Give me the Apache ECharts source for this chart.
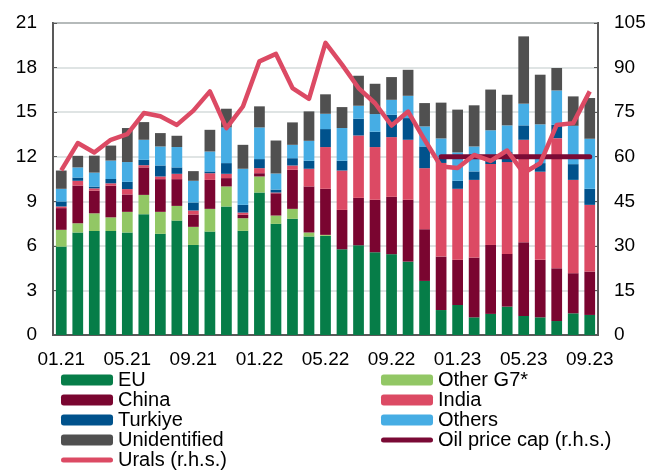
<!DOCTYPE html>
<html>
<head>
<meta charset="utf-8">
<script src="https://cdn.jsdelivr.net/npm/echarts@6/dist/echarts.min.js"></script>
<style>
  html, body { margin: 0; padding: 0; background: #fff; }
  #chart { width: 651px; height: 470px; }
</style>
</head>
<body>
<div id="chart"></div>
<script>
const months = ['01.21','02.21','03.21','04.21','05.21','06.21','07.21','08.21','09.21','10.21','11.21','12.21',
  '01.22','02.22','03.22','04.22','05.22','06.22','07.22','08.22','09.22','10.22','11.22','12.22',
  '01.23','02.23','03.23','04.23','05.23','06.23','07.23','08.23','09.23'];

// stacked volumes (l.h.s.)
const eu = [5.95,6.9,7.0,7.0,6.9,8.13,6.81,7.7,6.06,6.96,8.65,7.01,9.59,7.48,7.82,6.63,6.67,5.77,6.04,5.57,5.44,4.94,3.64,1.68,2.02,1.19,1.42,1.91,1.28,1.19,0.94,1.46,1.35];
const otherG7 = [1.13,0.62,1.19,0.92,1.39,1.3,1.48,0.99,1.22,1.53,1.35,0.85,1.08,0.56,0.67,0.27,0.07,0,0,0,0,0,0,0,0,0,0,0,0,0,0,0,0];
const china = [1.46,2.54,1.53,2.13,1.17,1.85,2.2,1.8,0.83,1.95,0.56,0.23,0.22,1.5,2.63,3.1,3.1,2.65,3.19,3.53,3.86,4.16,3.48,3.6,3.04,4.02,4.64,3.55,4.96,3.87,3.55,2.7,2.92];
const india = [0.11,0.32,0.15,0.16,0.36,0.15,0.18,0.36,0.27,0.45,0.29,0.15,0.34,0.05,0.29,1.19,2.81,2.65,4.2,3.55,4.02,4.04,4.11,6.3,4.78,5.23,5.45,6.18,6.9,5.93,8.76,6.28,4.49];
const turkiye = [0.34,0.22,0.12,0.29,0.49,0.36,0.74,0.43,0.54,0.12,0.72,0.52,0.61,0.2,0.49,0.54,1.21,0.66,1.13,1.03,1.5,1.46,1.46,0.35,0.54,0.57,0.35,0.67,0.97,0.58,0.9,1.06,1.08];
const others = [0.85,0.68,0.94,1.24,1.33,1.35,1.28,1.37,1.46,1.34,2.4,2.43,2.13,1.08,0.9,1.34,1.03,2.2,0.87,1.19,1.01,1.5,1.35,1.3,1.91,1.68,1.92,1.8,1.46,2.61,2.31,2.58,3.37];
const unidentified = [1.23,0.78,1.14,1.01,2.29,1.19,0.9,0.76,0.65,1.46,1.26,1.61,1.42,2.22,1.51,1.98,1.31,1.41,2.02,2.04,1.53,1.75,1.57,2.41,2.88,2.77,2.74,2.06,4.53,3.34,1.51,1.98,2.74];

// prices (r.h.s.)
const urals = [55.4,64.6,61.4,65.7,67.6,74.7,73.6,70.7,75.5,82.0,69.6,76.9,92.1,94.6,83.1,79.5,98.3,91.0,83.1,78.0,70.5,75.2,65.7,56.7,56.2,60.6,58.6,62.1,54.5,57.8,70.7,71.3,82.0];
const priceCap = [null,null,null,null,null,null,null,null,null,null,null,null,null,null,null,null,null,null,null,null,null,null,null,60,60,60,60,60,60,60,60,60,60];

const leftTicks = [0, 21, 3];
const rightTicks = [0, 105, 15];

const font = 'Liberation Sans, Arial, sans-serif';
const axisGrey = '#595959';
// rounded thick line used as legend icon for the r.h.s. lines
const lineIcon = 'path://M2.5,0 L49.5,0 A2.5,2.5 0 0 1 49.5,5 L2.5,5 A2.5,2.5 0 0 1 2.5,0 Z';

function bar(name, data, color) {
  return {
    name: name, type: 'bar', stack: 'vol', data: data,
    barWidth: '65%', itemStyle: { color: color }
  };
}

function legendBox(left, items) {
  return {
    left: left, top: 370, orient: 'vertical', padding: 0,
    itemWidth: 52, itemHeight: 11, itemGap: 0,
    textStyle: { fontSize: 20, color: '#000', lineHeight: 20, fontFamily: font },
    data: items
  };
}

let chart = echarts.init(document.getElementById('chart'));
chart.setOption({
  animation: false,
  textStyle: { fontFamily: font },
  grid: {
    left: 53, right: 53, top: 23, bottom: 135,
    show: true, borderColor: axisGrey, borderWidth: 2
  },
  legend: [
    legendBox(61, ['EU', 'China', 'Turkiye', 'Unidentified', { name: 'Urals (r.h.s.)', icon: lineIcon }]),
    legendBox(381, ['Other G7*', 'India', 'Others', { name: 'Oil price cap (r.h.s.)', icon: lineIcon }])
  ],
  xAxis: {
    type: 'category', data: months,
    axisLine: { lineStyle: { color: axisGrey, width: 2 } },
    axisTick: { inside: true, length: 4, interval: 3, lineStyle: { color: axisGrey, width: 2 } },
    axisLabel: { interval: 3, margin: 15, fontSize: 19, color: '#000' }
  },
  yAxis: [
    {
      type: 'value', min: leftTicks[0], max: leftTicks[1], interval: leftTicks[2],
      axisLine: { show: true, lineStyle: { color: axisGrey, width: 2 } },
      axisTick: { show: true, inside: true, length: 4, lineStyle: { color: axisGrey } },
      axisLabel: { margin: 16, fontSize: 19, color: '#000' },
      splitLine: { lineStyle: { color: '#d5dbdb', width: 1.5 } }
    },
    {
      type: 'value', min: rightTicks[0], max: rightTicks[1], interval: rightTicks[2],
      axisLine: { show: true, lineStyle: { color: axisGrey, width: 2 } },
      axisTick: { show: true, inside: true, length: 4, lineStyle: { color: axisGrey } },
      axisLabel: { margin: 16, fontSize: 19, color: '#000' },
      splitLine: { show: false }
    }
  ],
  series: [
    bar('EU', eu, '#067d48'),
    bar('Other G7*', otherG7, '#92c765'),
    bar('China', china, '#7a0530'),
    bar('India', india, '#dc4a64'),
    bar('Turkiye', turkiye, '#00528c'),
    bar('Others', others, '#46ade4'),
    bar('Unidentified', unidentified, '#505050'),
    {
      name: 'Oil price cap (r.h.s.)', type: 'line', yAxisIndex: 1, data: priceCap,
      symbol: 'none', lineStyle: { color: '#7a0a35', width: 5, cap: 'round' },
      itemStyle: { color: '#7a0a35' }
    },
    {
      name: 'Urals (r.h.s.)', type: 'line', yAxisIndex: 1, data: urals,
      symbol: 'none', lineStyle: { color: '#dc4a64', width: 4.5, join: 'round' },
      itemStyle: { color: '#dc4a64' }
    }
  ]
});
</script>
</body>
</html>
